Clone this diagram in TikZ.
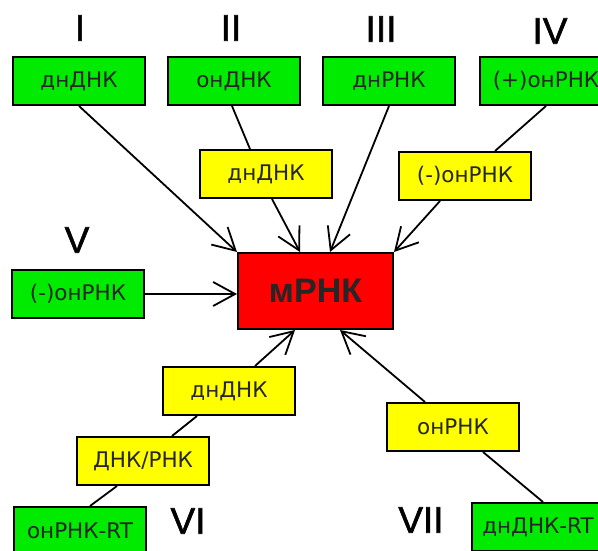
\documentclass[tikz,border=0pt]{standalone}
\usepackage{fontspec}
\setmainfont{Liberation Sans}
\newfontfamily\boxfont{DejaVu Sans}
\newfontfamily\numfont[FakeBold=1.5]{Liberation Sans}
\usetikzlibrary{arrows.meta,positioning}
\definecolor{gbox}{RGB}{0,235,0}
\definecolor{ybox}{RGB}{255,255,0}
\definecolor{rbox}{RGB}{255,0,0}

\begin{document}
\begin{tikzpicture}[x=1pt,y=-1pt,line width=1.8pt]
	\clip (0,0) rectangle (598,551);
	\begin{scope}[every node/.style={rectangle,draw,line width=2pt,minimum height=48pt,minimum width=132pt,inner sep=0pt,text=black!85,font=\boxfont\fontsize{21.5}{21.5}\selectfont}]
		\node[fill=gbox] (dsDNA) at (79,81) {днДНК};
		\node[fill=gbox,right =21pt of dsDNA] (ssDNA) {онДНК};
		\node[fill=gbox,right =21pt of ssDNA] (dsRNA) {днРНК};
		\node[fill=gbox,right =23pt of dsRNA] (plusRNA) {(+)онРНК};
		\node[fill=ybox] (dsII) at (266,174) {днДНК};
		\node[fill=ybox] (minusIV) at (465,176) {(-)онРНК};
		\node[fill=gbox] (minusRNA) at (78,294) {(-)онРНК};
		\node[fill=ybox] (dsVI) at (229,391) {днДНК};
		\node[fill=ybox] (hybrid) at (143,461) {ДНК/РНК};
		\node[fill=gbox] (rtRNA) at (80,531) {онРНК-RT};
		\node[fill=ybox] (ssVII) at (453,427) {онРНК};
		\node[fill=gbox] (rtDNA) at (538,527) {днДНК-RT};
		\node[fill=rbox,minimum width=155pt,minimum height=76pt,font=\bfseries\fontsize{34}{34}\selectfont] (mrna) at (315.5,291) {мРНК};
	\end{scope}

	\begin{scope}[every node/.style={font=\numfont\fontsize{37}{37}\selectfont,inner sep=0pt}]
		\node (gI) at (80,28) {I};
		\node (gII) at (231,28) {II};
		\node (gIII) at (381,29) {III};
		\node (gIV) at (550,31) {IV};
		\node (gV) at (77,240) {V};
		\node (gVI) at (188,521) {VI};
		\node (gVII) at (421,520) {VII};
	\end{scope}

	\begin{scope}[-{Straight Barb[length=22pt,width=24pt]}]
	\draw (dsDNA.south) -- (mrna.north west);
	\draw[-] ([xshift=-2pt]ssDNA.south) -- ([xshift=-16pt]dsII.north);
	\draw ([xshift=6pt]dsII.south) -- ([xshift=-15.5pt]mrna.north);
	\draw (dsRNA.south) -- ([xshift=14.5pt]mrna.north);
	\draw[-] (plusRNA.south) -- ([xshift=30pt]minusIV.north);
	\draw ([xshift=-25pt]minusIV.south) -- (mrna.north east);
	\draw (minusRNA.east) -- (minusRNA.east -| mrna.west);
	\draw[-] ([xshift=10pt]rtRNA.north) -- ([xshift=-26pt]hybrid.south);
	\draw[-] ([xshift=29pt]hybrid.north) -- ([xshift=-32pt]dsVI.south);
	\draw ([xshift=26pt]dsVI.north) -- ([xshift=-20.5pt]mrna.south);
	\draw[-] ([xshift=5pt]rtDNA.north) -- ([xshift=30pt]ssVII.south);
	\draw ([xshift=-28pt]ssVII.north) -- ([xshift=24.5pt]mrna.south);
	\end{scope}
\end{tikzpicture}
\end{document}
